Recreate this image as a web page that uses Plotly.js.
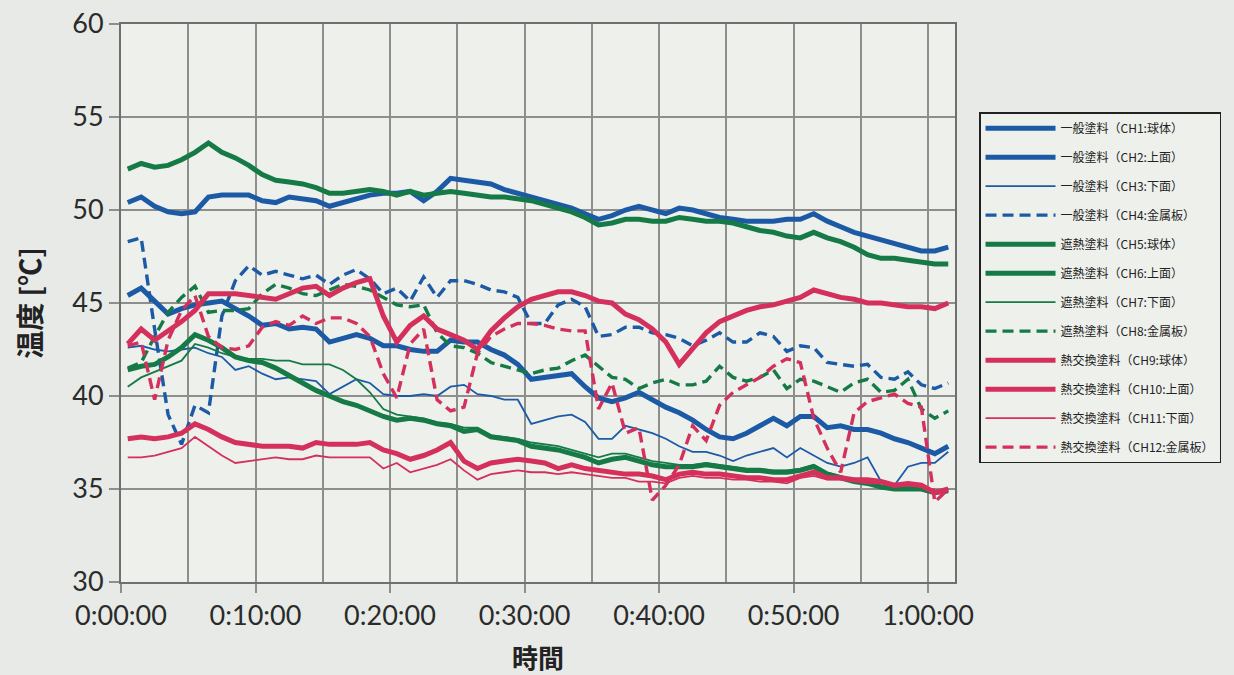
<!DOCTYPE html>
<html>
<head>
<meta charset="utf-8">
<script src="https://cdn.plot.ly/plotly-3.0.1.min.js"></script>
<style>
  html, body { margin: 0; padding: 0; background: #e7eae6; }
  #chart { width: 1234px; height: 675px; }
</style>
</head>
<body>
<div id="chart"></div>
<script>
// time in minutes from start (sampling every minute)
const times = [0.5,1.5,2.5,3.5,4.5,5.5,6.5,7.5,8.5,9.5,10.5,11.5,12.5,13.5,14.5,15.5,16.5,17.5,18.5,19.5,
  20.5,21.5,22.5,23.5,24.5,25.5,26.5,27.5,28.5,29.5,30.5,31.5,32.5,33.5,34.5,35.5,36.5,37.5,38.5,39.5,
  40.5,41.5,42.5,43.5,44.5,45.5,46.5,47.5,48.5,49.5,50.5,51.5,52.5,53.5,54.5,55.5,56.5,57.5,58.5,59.5,60.5,61.5];

const xTickVals = [0,10,20,30,40,50,60];
const xTickText = ["0:00:00","0:10:00","0:20:00","0:30:00","0:40:00","0:50:00","1:00:00"];
const xMinorVals = [5,15,25,35,45,55];

const names = [
  "一般塗料（CH1:球体）","一般塗料（CH2:上面）","一般塗料（CH3:下面）","一般塗料（CH4:金属板）",
  "遮熱塗料（CH5:球体）","遮熱塗料（CH6:上面）","遮熱塗料（CH7:下面）","遮熱塗料（CH8:金属板）",
  "熱交換塗料（CH9:球体）","熱交換塗料（CH10:上面）","熱交換塗料（CH11:下面）","熱交換塗料（CH12:金属板）"
];

const ch1 = [45.4,45.8,45.1,44.4,44.7,44.9,45.0,45.1,44.7,44.3,43.8,43.9,43.6,43.7,43.6,42.9,43.1,43.3,43.1,42.7,
  42.7,42.5,42.4,42.4,43.0,42.9,42.9,42.5,42.2,41.7,40.9,41.0,41.1,41.2,40.5,39.9,39.7,39.9,40.2,39.8,
  39.4,39.1,38.7,38.2,37.8,37.7,38.0,38.4,38.8,38.4,38.9,38.9,38.3,38.4,38.2,38.2,38.0,37.7,37.5,37.2,36.9,37.3];
const ch2 = [50.4,50.7,50.2,49.9,49.8,49.9,50.7,50.8,50.8,50.8,50.5,50.4,50.7,50.6,50.5,50.2,50.4,50.6,50.8,50.9,
  50.9,51.0,50.5,51.0,51.7,51.6,51.5,51.4,51.1,50.9,50.7,50.5,50.3,50.1,49.8,49.5,49.7,50.0,50.2,50.0,
  49.8,50.1,50.0,49.8,49.6,49.5,49.4,49.4,49.4,49.5,49.5,49.8,49.4,49.1,48.8,48.6,48.4,48.2,48.0,47.8,47.8,48.0];
const ch3 = [42.6,42.7,42.5,42.4,42.5,42.6,42.3,42.1,41.4,41.6,41.2,40.9,41.0,40.9,40.8,40.1,40.5,40.9,40.7,40.1,
  40.0,40.0,40.1,40.0,40.5,40.6,40.1,40.0,39.8,39.8,38.5,38.7,38.9,39.0,38.6,37.7,37.7,38.4,38.2,38.0,
  37.7,37.3,37.0,37.0,36.8,36.5,36.8,37.0,37.2,36.7,37.2,36.8,36.4,36.2,36.4,36.7,35.4,35.2,36.2,36.4,36.4,37.0];
const ch4 = [48.3,48.5,43.6,39.0,37.4,39.5,39.1,44.3,46.2,47.0,46.5,46.7,46.5,46.3,46.5,46.0,46.5,46.8,46.3,45.5,
  45.8,45.1,46.4,45.3,46.2,46.2,46.0,45.7,45.6,45.3,43.9,43.9,44.9,45.2,44.8,43.2,43.3,43.7,43.7,43.4,
  43.3,43.1,42.7,43.0,43.4,42.9,42.9,43.4,43.2,42.4,42.7,42.6,41.8,41.7,41.6,41.7,41.0,40.9,41.3,40.6,40.4,40.7];
const ch5 = [41.4,41.6,41.7,42.1,42.6,43.3,43.0,42.6,42.1,41.9,41.8,41.5,41.1,40.7,40.3,40.0,39.7,39.5,39.2,38.9,
  38.7,38.8,38.7,38.5,38.4,38.1,38.2,37.8,37.7,37.6,37.3,37.2,37.1,36.9,36.7,36.4,36.6,36.7,36.5,36.3,
  36.2,36.2,36.2,36.3,36.2,36.1,36.0,36.0,35.9,35.9,36.0,36.2,35.8,35.6,35.4,35.3,35.1,35.0,35.0,35.0,34.8,34.9];
const ch6 = [52.2,52.5,52.3,52.4,52.7,53.1,53.6,53.1,52.8,52.4,51.9,51.6,51.5,51.4,51.2,50.9,50.9,51.0,51.1,51.0,
  50.8,51.0,50.8,50.9,51.0,50.9,50.8,50.7,50.7,50.6,50.5,50.3,50.1,49.9,49.6,49.2,49.3,49.5,49.5,49.4,
  49.4,49.6,49.5,49.4,49.4,49.3,49.1,48.9,48.8,48.6,48.5,48.8,48.5,48.3,48.0,47.6,47.4,47.4,47.3,47.2,47.1,47.1];
const ch7 = [40.5,41.0,41.3,41.6,41.9,42.8,42.6,42.3,42.1,42.0,42.0,41.9,41.9,41.7,41.7,41.7,41.4,40.9,40.2,39.3,
  39.0,38.9,38.8,38.6,38.5,38.3,38.3,37.9,37.8,37.7,37.5,37.4,37.3,37.1,36.9,36.7,36.9,36.9,36.7,36.5,
  36.4,36.3,36.3,36.4,36.3,36.2,36.1,36.1,36.0,36.0,36.1,36.3,35.9,35.7,35.5,35.4,35.2,35.1,35.1,35.1,34.9,35.0];
const ch8 = [41.5,41.8,43.2,44.5,45.3,45.9,44.5,44.6,44.6,44.7,45.5,46.0,45.8,45.5,45.4,45.7,46.0,45.9,45.7,45.3,
  44.9,44.8,44.9,43.4,42.7,42.6,42.3,41.8,41.6,41.4,41.2,41.4,41.5,41.9,42.2,41.6,41.0,40.9,40.4,40.7,
  40.9,40.6,40.6,40.8,41.6,41.0,40.8,41.0,41.4,40.4,40.9,40.8,40.5,40.2,40.7,40.9,40.2,40.3,40.9,39.3,38.8,39.2];
const ch9 = [37.7,37.8,37.7,37.8,38.0,38.5,38.2,37.8,37.5,37.4,37.3,37.3,37.3,37.2,37.5,37.4,37.4,37.4,37.5,37.1,
  36.9,36.6,36.8,37.1,37.5,36.5,36.1,36.4,36.5,36.6,36.5,36.4,36.1,36.3,36.1,36.0,35.9,35.8,35.8,35.7,
  35.5,35.8,35.9,35.8,35.8,35.7,35.6,35.6,35.5,35.5,35.7,35.9,35.6,35.6,35.5,35.5,35.4,35.2,35.3,35.2,34.8,35.0];
const ch10 = [42.8,43.6,43.0,43.5,44.0,44.6,45.5,45.5,45.5,45.4,45.3,45.2,45.5,45.8,45.9,45.4,45.8,46.1,46.3,44.3,
  42.9,43.8,44.3,43.6,43.3,43.0,42.5,43.5,44.2,44.8,45.2,45.4,45.6,45.6,45.4,45.1,45.0,44.4,44.1,43.6,
  42.9,41.7,42.6,43.4,44.0,44.3,44.6,44.8,44.9,45.1,45.3,45.7,45.5,45.3,45.2,45.0,45.0,44.9,44.8,44.8,44.7,45.0];
const ch11 = [36.7,36.7,36.8,37.0,37.2,37.8,37.3,36.8,36.4,36.5,36.6,36.7,36.6,36.6,36.8,36.7,36.7,36.7,36.7,36.1,
  36.4,35.9,36.1,36.3,36.6,36.0,35.5,35.8,35.9,36.0,35.9,35.9,35.8,35.9,35.8,35.7,35.6,35.6,35.4,35.4,
  35.3,35.6,35.7,35.6,35.6,35.5,35.5,35.4,35.4,35.3,35.6,35.7,35.5,35.5,35.4,35.3,35.3,35.1,35.2,35.1,34.9,35.0];
const ch12 = [42.7,42.9,39.8,43.0,44.6,45.4,43.2,42.6,42.5,42.7,43.7,44.0,43.8,44.3,43.9,44.2,44.2,43.9,43.2,41.2,
  39.9,42.8,43.6,39.8,39.2,39.4,42.3,43.2,43.6,43.9,43.9,43.8,43.6,43.5,43.5,39.3,40.7,38.0,38.3,34.4,
  35.2,36.3,38.4,37.6,39.5,40.2,40.6,41.0,41.6,42.0,41.8,38.8,37.2,35.9,39.1,39.7,39.9,40.1,39.6,39.4,34.3,35.0];

const seriesValues = [ch1,ch2,ch3,ch4,ch5,ch6,ch7,ch8,ch9,ch10,ch11,ch12];

const BLUE = "#1d5aa6", GREEN = "#157a45", RED = "#d5305c";
const colors = [BLUE,BLUE,BLUE,BLUE,GREEN,GREEN,GREEN,GREEN,RED,RED,RED,RED];
const kinds  = ["thick","thick","thin","dash","thick","thick","thin","dash","thick","thick","thin","dash"];

const traces = seriesValues.map((vals, i) => {
  const k = kinds[i];
  return {
    type: "scatter",
    mode: "lines",
    name: names[i],
    x: times,
    y: vals,
    legendgroup: "g" + i,
    line: {
      color: colors[i],
      width: k === "thick" ? 5 : (k === "thin" ? 1.8 : 3.4),
      dash: k === "dash" ? "11px,6px" : "solid"
    }
  };
});

const GRID = "#8e8f8c";
const layout = {
  width: 1234, height: 675,
  paper_bgcolor: "#e7eae6",
  plot_bgcolor: "#edf0eb",
  margin: {l: 120.5, r: 279, t: 24, b: 93},
  font: {family: "Lato, 'Noto Sans CJK JP', sans-serif", color: "#2b2b2b"},
  xaxis: {
    range: [0, 62],
    tickmode: "array",
    tickvals: xTickVals,
    ticktext: xTickText,
    ticks: "outside", ticklen: 9, tickwidth: 2, tickcolor: GRID,
    showgrid: true, gridcolor: GRID, gridwidth: 2,
    minor: {tickmode: "array", tickvals: xMinorVals, showgrid: true, gridcolor: GRID, gridwidth: 2, ticks: ""},
    showline: true, linecolor: "#6f706d", linewidth: 2, mirror: true,
    zeroline: false,
    tickfont: {family: "Lato, sans-serif", size: 27, color: "#2b2b2b"},
    title: {text: "時間", standoff: 20,
      font: {family: "'Noto Sans CJK JP', sans-serif", size: 26, color: "#222", weight: 700}}
  },
  yaxis: {
    range: [30, 60],
    tickmode: "linear", tick0: 30, dtick: 5,
    ticks: "outside", ticklen: 10, tickwidth: 2, tickcolor: GRID,
    showgrid: true, gridcolor: GRID, gridwidth: 2,
    showline: true, linecolor: "#6f706d", linewidth: 2, mirror: true,
    zeroline: false,
    tickfont: {family: "Lato, sans-serif", size: 27, color: "#2b2b2b"},
    title: {text: "温度 [℃]", standoff: 22,
      font: {family: "'Noto Sans CJK JP', sans-serif", size: 28, color: "#222", weight: 700}}
  },
  showlegend: true,
  legend: {
    x: 1.0288, xanchor: "left",
    y: 0.842, yanchor: "top",
    bgcolor: "#eef0ec",
    bordercolor: "#222", borderwidth: 1.5,
    font: {family: "'Noto Sans CJK JP', serif", size: 12, color: "#222"},
    itemwidth: 70,
    traceorder: "grouped",
    tracegroupgap: 10
  }
};

Plotly.newPlot("chart", traces, layout, {staticPlot: true, displayModeBar: false});
</script>
</body>
</html>
